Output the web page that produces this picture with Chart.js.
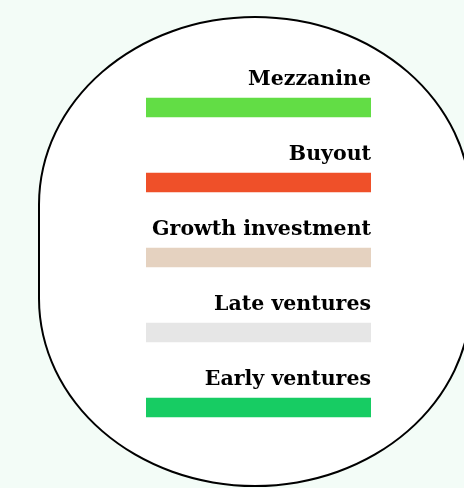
<!DOCTYPE html>
<html>
<head>
<meta charset="utf-8">
<script src="https://cdn.jsdelivr.net/npm/chart.js@4"></script>
<style>
  html, body { margin: 0; padding: 0; background: #f3fcf7; }
  body { width: 464px; height: 488px; position: relative; overflow: hidden; }
  #blob {
    position: absolute; left: 38px; top: 16px; width: 434px; height: 471px;
    box-sizing: border-box; border: 2px solid #000; background: #fff;
    border-radius: 50% / 40%;
  }
  #wrap { position: absolute; left: 0; top: 0; width: 464px; height: 488px; }
</style>
</head>
<body>
<div id="blob"></div>
<div id="wrap"><canvas id="chart"></canvas></div>
<script>
// categories, top to bottom
const categories = ['Mezzanine', 'Buyout', 'Growth investment', 'Late ventures', 'Early ventures'];
// every bar in the picture runs the same length
const values = [100, 100, 100, 100, 100];
const barColors = ['#62dd45', '#ef5029', '#e5d2c0', '#e6e6e6', '#17cc63'];

// labels sit above the bar, right-aligned with its end
const labelPlugin = {
  id: 'barLabels',
  afterDatasetsDraw(chart) {
    const ctx = chart.ctx;
    const meta = chart.getDatasetMeta(0);
    ctx.save();
    ctx.font = 'bold 20.5px "DejaVu Serif"';
    ctx.fillStyle = '#000';
    ctx.textAlign = 'right';
    ctx.textBaseline = 'alphabetic';
    meta.data.forEach((bar, i) => {
      const top = bar.y - bar.height / 2;
      ctx.fillText(chart.data.labels[i], bar.x, top - 13);
    });
    ctx.restore();
  }
};

const ctx = document.getElementById('chart').getContext('2d');
new Chart(ctx, {
  type: 'bar',
  data: {
    labels: categories,
    datasets: [{
      data: values,
      backgroundColor: barColors,
      barThickness: 19
    }]
  },
  options: {
    indexAxis: 'y',
    responsive: true,
    maintainAspectRatio: false,
    animation: false,
    layout: { padding: { left: 146, right: 93, top: 70, bottom: 43 } },
    plugins: { legend: { display: false }, tooltip: { enabled: false } },
    scales: {
      x: { min: 0, max: 100, display: false },
      y: { display: false }
    }
  },
  plugins: [labelPlugin]
});
</script>
</body>
</html>
